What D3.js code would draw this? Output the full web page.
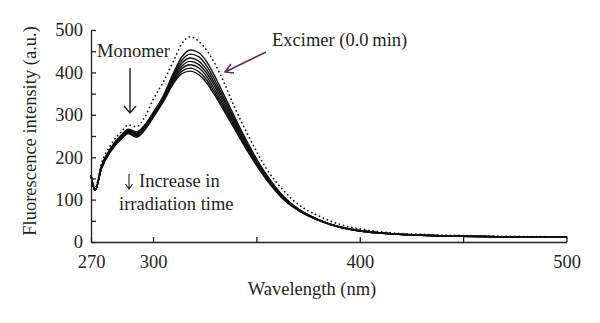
<!DOCTYPE html>
<html>
<head>
<meta charset="utf-8">
<script src="https://cdn.jsdelivr.net/npm/d3@7"></script>
<style>
  body { margin: 0; background: #fff; }
  text { font-family: "Liberation Serif", "DejaVu Serif", serif; fill: #231f20; }
</style>
</head>
<body>
<div id="chart"></div>
<script>
// wavelength grid (nm) shared by every spectrum
const wavelengths = [270, 272, 275, 280, 285, 288, 292, 296, 300, 305, 310, 314, 318, 322, 326, 330, 334, 340, 346, 355, 363, 371, 380, 390, 400, 430, 500];

// excimer spectrum before irradiation (dotted)
const excimer0 = [152, 128, 184, 232, 262, 276, 272, 295, 335, 378, 428, 468, 484, 474, 452, 420, 380, 312, 252, 172, 122, 86, 62, 42, 31, 18, 12];

// spectra with increasing irradiation time (solid)
const irr1 = [158, 122, 178, 225, 254, 266, 260, 276, 305, 345, 400, 437, 453, 447, 425, 390, 350, 290, 232, 158, 108, 76, 53, 36, 27, 16, 11];
const irr2 = [158, 122, 177, 223, 252, 264, 257, 274, 303, 342, 395, 429, 443, 437, 415, 381, 342, 284, 228, 156, 107, 75, 53, 36, 27, 16, 11];
const irr3 = [158, 122, 176, 222, 251, 262, 255, 271, 300, 340, 390, 422, 434, 427, 406, 373, 336, 279, 224, 153, 105, 74, 52, 36, 27, 16, 11];
const irr4 = [158, 122, 175, 221, 249, 261, 253, 270, 299, 337, 386, 415, 426, 419, 398, 366, 329, 275, 221, 152, 104, 74, 52, 35, 26, 16, 11];
const irr5 = [158, 122, 174, 219, 248, 259, 251, 268, 297, 335, 382, 409, 418, 411, 390, 358, 323, 270, 218, 150, 103, 73, 52, 35, 26, 16, 11];
const irr6 = [158, 122, 173, 218, 246, 257, 249, 266, 295, 333, 378, 403, 410, 402, 382, 351, 317, 266, 215, 148, 102, 73, 51, 35, 26, 16, 11];
const irr7 = [158, 122, 172, 217, 245, 256, 247, 264, 293, 331, 375, 397, 403, 395, 375, 345, 312, 262, 212, 146, 101, 72, 51, 35, 26, 16, 11];

const xTicks = [270, 300, 350, 400, 450, 500];
const xLabels = [270, 300, 400, 500];
const yTicks = [0, 50, 100, 150, 200, 250, 300, 350, 400, 450, 500];
const yLabels = [0, 100, 200, 300, 400, 500];

const width = 600;
const height = 323;
const fontSize = 18.5;

const svg = d3.select("#chart")
              .append("svg")
              .attr("width", width)
              .attr("height", height);

const x = d3.scaleLinear().domain([270, 500]).range([91, 566.5]);
const y = d3.scaleLinear().domain([0, 500]).range([242, 30]);

const line = d3.line()
               .x((d, i) => x(wavelengths[i]))
               .y(d => y(d))
               .curve(d3.curveMonotoneX);

// solid spectra
svg.append("g")
   .selectAll("path")
   .data([irr1, irr2, irr3, irr4, irr5, irr6, irr7])
   .enter()
   .append("path")
   .attr("d", line)
   .attr("fill", "none")
   .attr("stroke", "#111")
   .attr("stroke-width", 1.4);

// dotted spectrum at 0.0 min
svg.append("path")
   .attr("d", line(excimer0))
   .attr("fill", "none")
   .attr("stroke", "#111")
   .attr("stroke-width", 1.7)
   .attr("stroke-linecap", "round")
   .attr("stroke-dasharray", "0.1,4.2");

// axes
const xAxis = d3.axisBottom(x)
                .tickValues(xTicks)
                .tickSize(-5)
                .tickSizeOuter(0)
                .tickPadding(13)
                .tickFormat(d => xLabels.includes(d) ? d : "");

const yAxis = d3.axisLeft(y)
                .tickValues(yTicks)
                .tickSize(-5)
                .tickSizeOuter(0)
                .tickPadding(8)
                .tickFormat(d => yLabels.includes(d) ? d : "");

const gx = svg.append("g")
              .attr("transform", `translate(0, ${y(0)})`)
              .call(xAxis);

const gy = svg.append("g")
              .attr("transform", `translate(${x(270)}, 0)`)
              .call(yAxis);

[gx, gy].forEach(g => {
  g.attr("font-family", null).attr("font-size", null);
  g.selectAll("path, line").attr("stroke", "#231f20").attr("stroke-width", 1.3);
  g.selectAll("text").style("font-size", fontSize + "px").attr("fill", "#231f20");
});

// axis titles
svg.append("text")
   .attr("x", 312)
   .attr("y", 295)
   .attr("text-anchor", "middle")
   .style("font-size", fontSize + "px")
   .text("Wavelength (nm)");

svg.append("text")
   .attr("transform", "translate(36, 131) rotate(-90)")
   .attr("text-anchor", "middle")
   .style("font-size", fontSize + "px")
   .text("Fluorescence intensity (a.u.)");

// annotations
svg.append("text")
   .attr("x", 97)
   .attr("y", 57)
   .style("font-size", fontSize + "px")
   .text("Monomer");

svg.append("path")
   .attr("d", "M130,68 L130,113 M124,106 L130,113 L136,106")
   .attr("fill", "none")
   .attr("stroke", "#231f20")
   .attr("stroke-width", 1.4);

svg.append("text")
   .attr("x", 272)
   .attr("y", 46)
   .style("font-size", fontSize + "px")
   .text("Excimer (0.0\u2009min)");

svg.append("path")
   .attr("d", "M266,52 L225,72 M231,64 L225,72 L234,73")
   .attr("fill", "none")
   .attr("stroke", "#5b2a55")
   .attr("stroke-width", 1.5);

// small down arrow in front of "Increase in"
svg.append("path")
   .attr("d", "M129,174 L129,189 M125.5,184 L129,189 L132.5,184")
   .attr("fill", "none")
   .attr("stroke", "#231f20")
   .attr("stroke-width", 1.1);

svg.append("text")
   .attr("x", 139)
   .attr("y", 187)
   .style("font-size", fontSize + "px")
   .text("Increase in");

svg.append("text")
   .attr("x", 119)
   .attr("y", 210)
   .style("font-size", fontSize + "px")
   .text("irradiation time");
</script>
</body>
</html>
